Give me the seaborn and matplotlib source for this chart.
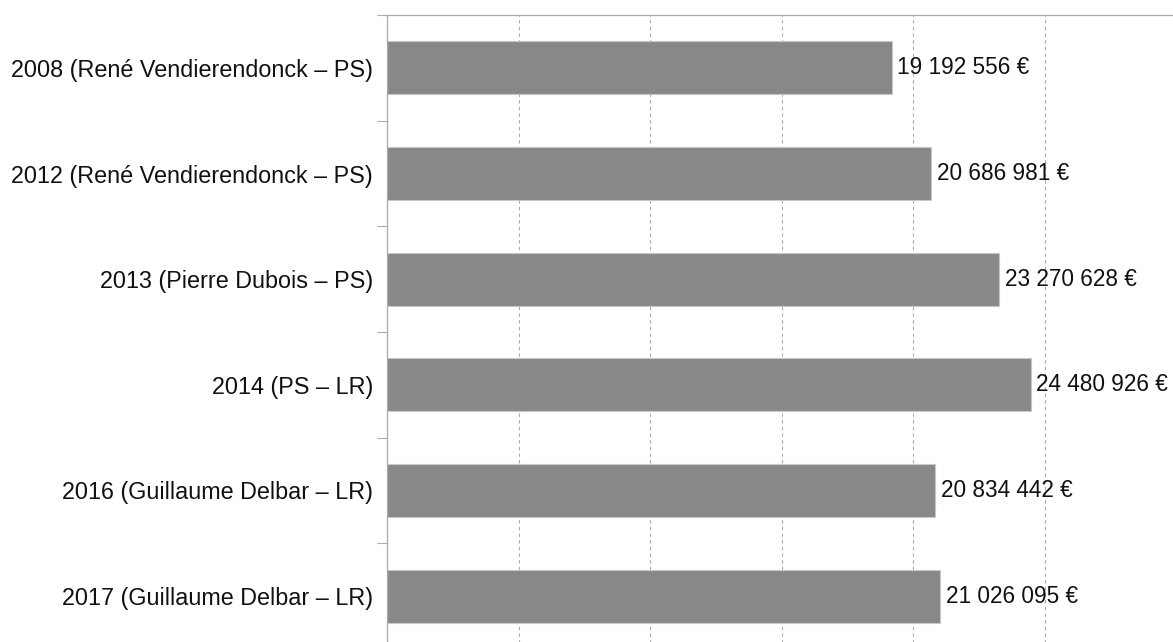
import matplotlib
matplotlib.use("Agg")
import matplotlib.pyplot as plt
import seaborn as sns
import pandas as pd
from matplotlib.ticker import MultipleLocator, FixedLocator

categories = [
    "2008 (René Vendierendonck – PS)",
    "2012 (René Vendierendonck – PS)",
    "2013 (Pierre Dubois – PS)",
    "2014 (PS – LR)",
    "2016 (Guillaume Delbar – LR)",
    "2017 (Guillaume Delbar – LR)",
]
values = [19192556, 20686981, 23270628, 24480926, 20834442, 21026095]

df = pd.DataFrame({"cat": categories, "val": values})

sns.set_theme(style="white")
plt.rcParams["font.family"] = ["Liberation Sans", "DejaVu Sans"]

fig = plt.figure(figsize=(11.73, 6.42), dpi=100)
ax = fig.add_axes([387 / 1173, -7 / 642, (1176 - 387) / 1173, (649 - 15) / 642])

sns.barplot(data=df, x="val", y="cat", orient="h", color="#888888",
            saturation=1, width=0.5, edgecolor="#c8c8c8", linewidth=0.8, ax=ax)

ax.set_xlim(0, 30_000_000)
ax.set_ylim(len(categories) - 0.5, -0.5)
ax.xaxis.set_major_locator(MultipleLocator(5_000_000))
ax.grid(axis="x", linestyle=(0, (3, 3)), color="#aaaaaa", linewidth=0.8)
ax.set_axisbelow(True)
ax.tick_params(axis="x", length=0, labelbottom=False)
ax.set_xlabel("")
ax.set_ylabel("")

ax.yaxis.set_minor_locator(FixedLocator([i - 0.5 for i in range(len(categories) + 1)]))
ax.tick_params(axis="y", which="major", length=0, labelsize=16.8, pad=10, labelcolor="#111111")
ax.tick_params(axis="y", which="minor", length=7, width=0.8, color="#aaaaaa", left=True)

for side in ["right", "bottom"]:
    ax.spines[side].set_visible(False)
for side in ["left", "top"]:
    ax.spines[side].set_color("#aaaaaa")
    ax.spines[side].set_linewidth(0.9)

labels = [f"{v:,}".replace(",", " ") + " €" for v in values]
texts = ax.bar_label(ax.containers[0], labels=labels, padding=4, fontsize=16.3, color="#111111")
for t in texts:
    t.set_va("center")

fig.savefig("out.png", dpi=100)
